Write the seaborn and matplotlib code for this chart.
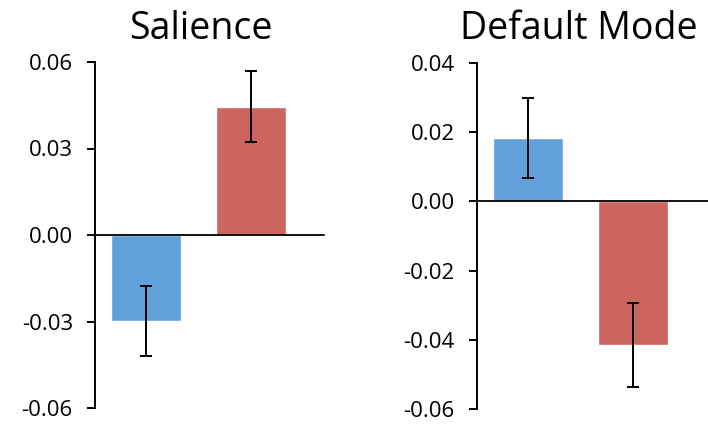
import matplotlib
matplotlib.use("Agg")
import matplotlib.pyplot as plt
import seaborn as sns
import pandas as pd

sns.set_theme(style="white")
plt.rcParams["font.family"] = ["Open Sans", "DejaVu Sans"]

# Network connectivity change per group
groups = ["Group A", "Group B"]
salience_means = [-0.0297, 0.0445]
salience_errs = [0.0121, 0.0124]
default_means = [0.0183, -0.0414]
default_errs = [0.0116, 0.0121]
bar_colors = ["#62A0DC", "#CC655D"]

panels = [
    ("Salience", salience_means, salience_errs, (-0.06, 0.06),
     [-0.06, -0.03, 0.0, 0.03, 0.06], (-0.486, 1.695)),
    ("Default Mode", default_means, default_errs, (-0.06, 0.04),
     [-0.06, -0.04, -0.02, 0.0, 0.02, 0.04], (-0.488, 1.72)),
]

W, H = 708, 425
fig = plt.figure(figsize=(W / 100, H / 100), dpi=100)
axes_px = [(95, 62, 324, 408), (477, 63, 708, 409)]
title_cx = [201, 579]

for (title, means, errs, ylim, yticks, xlim), (x0, y0, x1, y1), tcx in zip(panels, axes_px, title_cx):
    ax = fig.add_axes([x0 / W, 1 - y1 / H, (x1 - x0) / W, (y1 - y0) / H])
    df = pd.DataFrame({"group": groups, "value": means})
    sns.barplot(data=df, x="group", y="value", hue="group", palette=bar_colors,
                width=0.667, errorbar=None, legend=False, ax=ax, saturation=1)
    ax.errorbar(range(len(means)), means, yerr=errs, fmt="none", ecolor="black",
                elinewidth=1.4, capsize=4.5, capthick=1.4)
    ax.axhline(0, color="black", lw=1.3, zorder=5, clip_on=False)
    ax.set_ylim(*ylim)
    ax.set_xlim(*xlim)
    ax.set_yticks(yticks)
    ax.set_yticklabels([f"{t:.2f}" for t in yticks])
    ax.set_xticks([])
    ax.set_xlabel("")
    ax.set_ylabel("")
    for s in ["top", "right", "bottom"]:
        ax.spines[s].set_visible(False)
    ax.spines["left"].set_color("black")
    ax.spines["left"].set_linewidth(1.4)
    ax.tick_params(axis="y", left=True, direction="out", length=6, width=1.4,
                   color="black", labelsize=16, pad=10, labelcolor="black")
    fig.text(tcx / W, 1 - 39 / H, title, ha="center", va="baseline",
             fontsize=27, color="black")

fig.savefig("out.png", dpi=100)
